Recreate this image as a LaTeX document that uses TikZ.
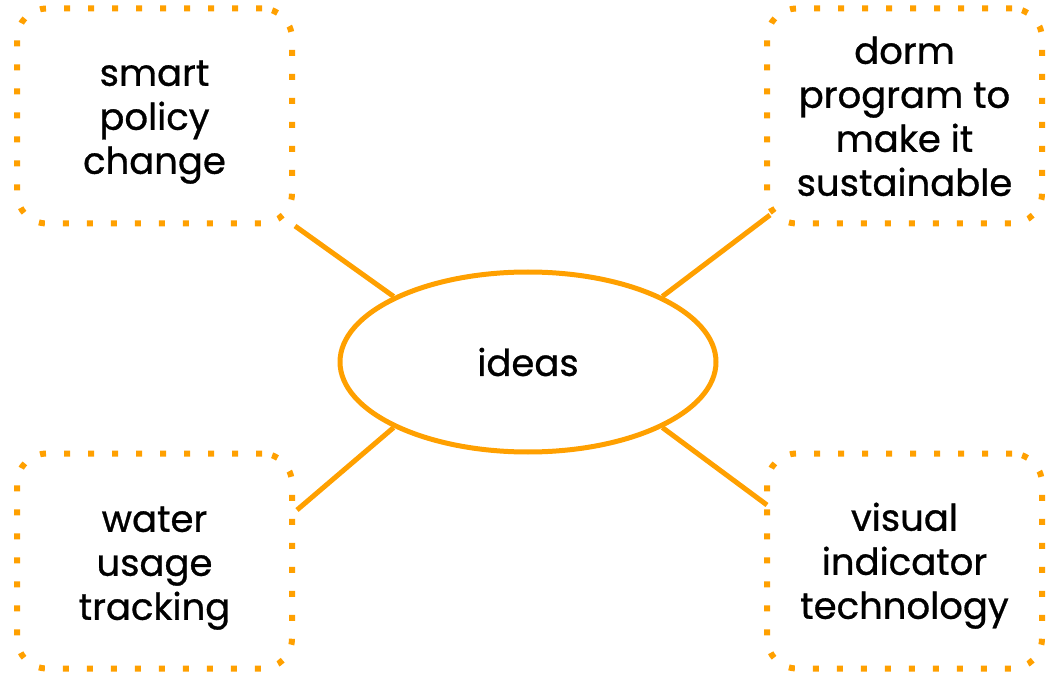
\documentclass[tikz,border=0pt]{standalone}
\usepackage{fontspec}
\setmainfont{Poppins}[UprightFeatures={FakeBold=0.8}]
\usetikzlibrary{shapes.geometric}
\definecolor{org}{HTML}{FFA000}
\newcommand{\boxtext}[2]{\raisebox{#1}[\height][\depth]{\begin{tabular}{@{}c@{}}#2\end{tabular}}}
\tikzset{
  idea/.style={draw=org, line width=6pt, dash pattern=on 6pt off 18pt, rounded corners=30pt,
    minimum width=275pt, minimum height=215pt, align=center, font=\fontsize{37}{44}\selectfont, inner sep=0pt},
  hub/.style={draw=org, line width=5pt, ellipse, minimum width=376pt, minimum height=180pt, font=\fontsize{37}{44}\selectfont},
  link/.style={draw=org, line width=5pt}
}
\begin{document}
\begin{tikzpicture}[x=1pt,y=-1pt]
\useasboundingbox (0,0) rectangle (1047,676);
\node[hub] (c) at (528,362) {ideas};
\node[idea] (tl) at (154.5,116) {\boxtext{-5pt}{smart\\policy\\change}};
\node[idea] (tr) at (904.5,116) {\boxtext{-5pt}{dorm\\program to\\make it\\sustainable}};
\node[idea] (bl) at (154.5,561) {\boxtext{-6pt}{water\\usage\\tracking}};
\node[idea] (br) at (904.5,561) {\boxtext{-5pt}{visual\\indicator\\technology}};
\coordinate (tle) at (295,226);
\coordinate (tre) at (770,215);
\coordinate (ble) at (297,510);
\coordinate (bre) at (767,505);
\draw[link] (c.154) -- (tle);
\draw[link] (c.26) -- (tre);
\draw[link] (c.-154) -- (ble);
\draw[link] (c.-26) -- (bre);
\end{tikzpicture}
\end{document}
